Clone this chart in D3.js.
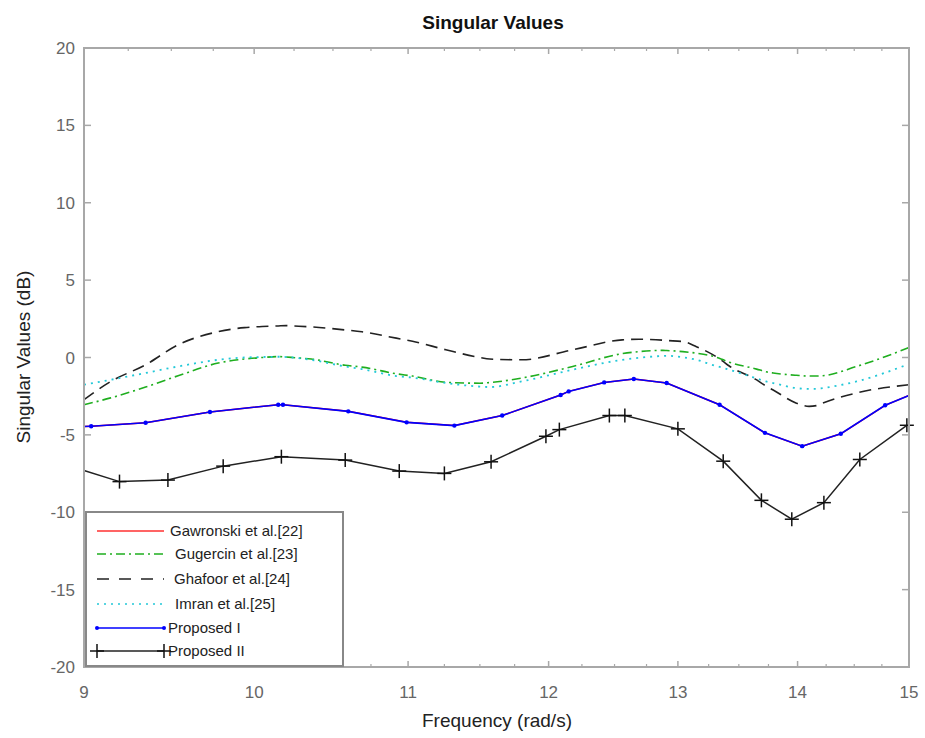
<!DOCTYPE html>
<html>
<head>
<meta charset="utf-8">
<script src="https://cdn.jsdelivr.net/npm/d3@7"></script>
<style>
  body { margin: 0; background: #fff; }
  svg { font-family: "Liberation Sans", Arial, sans-serif; }
</style>
</head>
<body>
<div id="chart"></div>
<script>
// frequencies (rad/s) and singular values (dB)
var smoothFreq = [9.0, 9.15, 9.35, 9.54, 9.78, 9.94, 10.05, 10.15, 10.2, 10.24, 10.36, 10.58, 10.69, 10.92,
                  11.03, 11.26, 11.5, 11.57, 11.8, 12.18, 12.56, 12.69, 12.88, 12.91, 13.04, 13.15, 13.31,
                  13.36, 13.42, 13.65, 13.73, 13.79, 13.99, 14.1, 14.17, 14.22, 14.52, 15.0];

var gugercin = [-3.05, -2.61, -1.91, -1.18, -0.36, -0.10, 0.0, 0.06, 0.03, 0.0, -0.10, -0.50, -0.62, -1.05,
                -1.2, -1.6, -1.66, -1.62, -1.33, -0.58, 0.25, 0.38, 0.46, 0.45, 0.38, 0.28, 0.02,
                -0.12, -0.3, -0.75, -0.92, -1.0, -1.15, -1.2, -1.2, -1.18, -0.58, 0.64];

var ghafoor = [-2.72, -1.55, -0.47, 0.82, 1.67, 1.93, 2.0, 2.04, 2.06, 2.04, 1.98, 1.78, 1.66, 1.25,
               1.05, 0.5, 0.0, -0.1, -0.15, 0.5, 1.14, 1.18, 1.12, 1.1, 1.03, 0.7, 0.06,
               -0.2, -0.55, -1.45, -1.85, -2.1, -2.95, -3.16, -3.1, -2.95, -2.29, -1.76];

var imran = [-1.76, -1.44, -1.0, -0.58, -0.15, 0.0, 0.03, 0.05, 0.03, 0.0, -0.15, -0.58, -0.75, -1.2,
             -1.3, -1.65, -1.88, -1.91, -1.55, -0.79, -0.15, -0.02, 0.1, 0.11, 0.02, -0.15, -0.55,
             -0.65, -0.79, -1.35, -1.55, -1.65, -1.98, -2.03, -2.03, -1.98, -1.55, -0.42];

var prop1Freq = [9.0, 9.04, 9.35, 9.73, 10.15, 10.18, 10.6, 10.99, 11.32, 11.66, 12.09, 12.15, 12.42, 12.65,
                 12.91, 13.34, 13.72, 14.04, 14.38, 14.78, 15.0];
var proposed1 = [-4.46, -4.44, -4.22, -3.52, -3.05, -3.05, -3.48, -4.19, -4.40, -3.75, -2.42, -2.19, -1.61, -1.39,
                 -1.65, -3.05, -4.87, -5.73, -4.93, -3.09, -2.45];
// Gawronski et al. coincides with Proposed I (hidden under it)
var gawronski = proposed1.slice();

var prop2Freq = [9.0, 9.2, 9.48, 9.81, 10.17, 10.58, 10.94, 11.25, 11.58, 11.98, 12.08, 12.46, 12.58,
                 13.0, 13.37, 13.69, 13.95, 14.23, 14.55, 14.98];
var proposed2 = [-7.3, -8.02, -7.92, -7.02, -6.41, -6.63, -7.34, -7.49, -6.74, -5.09, -4.66, -3.75, -3.75,
                 -4.61, -6.70, -9.23, -10.45, -9.38, -6.59, -4.38];

var legendLabels = ["Gawronski et al.[22]", "Gugercin et al.[23]", "Ghafoor et al.[24]",
                    "Imran et al.[25]", "Proposed I", "Proposed II"];
var xTicks = [9, 10, 11, 12, 13, 14, 15];
var yTicks = [20, 15, 10, 5, 0, -5, -10, -15, -20];

var W = 925, H = 738;
var pLeft = 84, pRight = 909, pTop = 48, pBottom = 667;
var axisGray = "#a8a8a8";
var labelGray = "#666";

var svg = d3.select("#chart").append("svg")
    .attr("width", W)
    .attr("height", H);

var x = d3.scaleLog().domain([9, 15]).range([pLeft, pRight]);
var y = d3.scaleLinear().domain([-20, 20]).range([pBottom, pTop]);

// minor ticks every 0.25 on the log axis
var minorTicks = d3.range(9, 15.001, 0.25).filter(function(d) { return Math.abs(d - Math.round(d)) > 0.01; });

var axes = svg.append("g");

// tick marks (inside, on all four sides)
xTicks.forEach(function(t) {
  axes.append("line").attr("x1", x(t)).attr("x2", x(t)).attr("y1", pBottom).attr("y2", pBottom - 6)
    .attr("stroke", axisGray).attr("stroke-width", 1.5);
  axes.append("line").attr("x1", x(t)).attr("x2", x(t)).attr("y1", pTop).attr("y2", pTop + 6)
    .attr("stroke", axisGray).attr("stroke-width", 1.5);
});
minorTicks.forEach(function(t) {
  axes.append("line").attr("x1", x(t)).attr("x2", x(t)).attr("y1", pBottom).attr("y2", pBottom - 3)
    .attr("stroke", axisGray).attr("stroke-width", 1.2);
  axes.append("line").attr("x1", x(t)).attr("x2", x(t)).attr("y1", pTop).attr("y2", pTop + 3)
    .attr("stroke", axisGray).attr("stroke-width", 1.2);
});
yTicks.forEach(function(t) {
  axes.append("line").attr("x1", pLeft).attr("x2", pLeft + 7).attr("y1", y(t)).attr("y2", y(t))
    .attr("stroke", axisGray).attr("stroke-width", 1.5);
  axes.append("line").attr("x1", pRight).attr("x2", pRight - 7).attr("y1", y(t)).attr("y2", y(t))
    .attr("stroke", axisGray).attr("stroke-width", 1.5);
});

// tick labels
axes.selectAll(".xl").data(xTicks).enter().append("text")
  .attr("x", function(d) { return x(d); })
  .attr("y", pBottom + 31)
  .attr("text-anchor", "middle")
  .attr("font-size", 17)
  .attr("fill", labelGray)
  .text(function(d) { return d; });

axes.selectAll(".yl").data(yTicks).enter().append("text")
  .attr("x", pLeft - 9)
  .attr("y", function(d) { return y(d) + 6; })
  .attr("text-anchor", "end")
  .attr("font-size", 17)
  .attr("fill", labelGray)
  .text(function(d) { return d; });

// series
var lineGen = d3.line().curve(d3.curveMonotoneX);
var straight = d3.line();
function pts(fs, vs) { return fs.map(function(f, i) { return [x(f), y(vs[i])]; }); }

var plot = svg.append("g");

plot.append("path").attr("d", straight(pts(prop1Freq, gawronski)))
  .attr("fill", "none").attr("stroke", "#ff0000").attr("stroke-width", 1.5);

plot.append("path").attr("d", lineGen(pts(smoothFreq, ghafoor)))
  .attr("fill", "none").attr("stroke", "#222").attr("stroke-width", 1.6)
  .attr("stroke-dasharray", "12,7");

plot.append("path").attr("d", lineGen(pts(smoothFreq, gugercin)))
  .attr("fill", "none").attr("stroke", "#1fae1f").attr("stroke-width", 1.6)
  .attr("stroke-dasharray", "9,4,2,4");

plot.append("path").attr("d", lineGen(pts(smoothFreq, imran)))
  .attr("fill", "none").attr("stroke", "#22c8d8").attr("stroke-width", 1.8)
  .attr("stroke-dasharray", "2,5");

plot.append("path").attr("d", straight(pts(prop1Freq, proposed1)))
  .attr("fill", "none").attr("stroke", "#0000ff").attr("stroke-width", 1.6);
plot.selectAll(".dot").data(prop1Freq.slice(1, -1)).enter().append("circle")
  .attr("cx", function(d) { return x(d); })
  .attr("cy", function(d, i) { return y(proposed1[i + 1]); })
  .attr("r", 2.2)
  .attr("fill", "#0000ff");

plot.append("path").attr("d", straight(pts(prop2Freq, proposed2)))
  .attr("fill", "none").attr("stroke", "#222").attr("stroke-width", 1.5);
var plus = plot.selectAll(".plus").data(prop2Freq.slice(1)).enter().append("g")
  .attr("transform", function(d, i) { return "translate(" + x(d) + "," + y(proposed2[i + 1]) + ")"; });
plus.append("line").attr("x1", -7).attr("x2", 7).attr("stroke", "#111").attr("stroke-width", 1.5);
plus.append("line").attr("y1", -7).attr("y2", 7).attr("stroke", "#111").attr("stroke-width", 1.5);

// axes box
svg.append("rect")
  .attr("x", pLeft).attr("y", pTop)
  .attr("width", pRight - pLeft).attr("height", pBottom - pTop)
  .attr("fill", "none").attr("stroke", axisGray).attr("stroke-width", 2);

// legend
var leg = svg.append("g");
leg.append("rect").attr("x", 86).attr("y", 512).attr("width", 257).attr("height", 154)
  .attr("fill", "#fff").attr("stroke", "#888").attr("stroke-width", 2);

var legStyles = [
  { color: "#ff3030", dash: null, tx: 170 },
  { color: "#1fae1f", dash: "9,4,2,4", tx: 175 },
  { color: "#222", dash: "12,10", tx: 174 },
  { color: "#22c8d8", dash: "2,5", tx: 175 },
  { color: "#0000ff", dash: null, tx: 168 },
  { color: "#222", dash: null, tx: 168 }
];
var legY = [531, 554, 579, 604, 628, 651];

legendLabels.forEach(function(lab, i) {
  var s = legStyles[i];
  leg.append("line").attr("x1", 97).attr("x2", 164).attr("y1", legY[i]).attr("y2", legY[i])
    .attr("stroke", s.color).attr("stroke-width", 1.6)
    .attr("stroke-dasharray", s.dash);
  leg.append("text").attr("x", s.tx).attr("y", legY[i] + 5)
    .attr("font-size", 15).attr("fill", "#222").text(lab);
});
[97, 164].forEach(function(px) {
  leg.append("circle").attr("cx", px).attr("cy", legY[4]).attr("r", 2).attr("fill", "#0000ff");
  leg.append("line").attr("x1", px - 7).attr("x2", px + 7).attr("y1", legY[5]).attr("y2", legY[5])
    .attr("stroke", "#111").attr("stroke-width", 1.5);
  leg.append("line").attr("x1", px).attr("x2", px).attr("y1", legY[5] - 7).attr("y2", legY[5] + 7)
    .attr("stroke", "#111").attr("stroke-width", 1.5);
});

// titles
svg.append("text").attr("x", 493).attr("y", 29).attr("text-anchor", "middle")
  .attr("font-size", 19).attr("font-weight", "bold").attr("fill", "#111").text("Singular Values");

svg.append("text").attr("x", 497).attr("y", 727).attr("text-anchor", "middle")
  .attr("font-size", 19).attr("fill", "#222").text("Frequency (rad/s)");

svg.append("text").attr("transform", "translate(30,357) rotate(-90)").attr("text-anchor", "middle")
  .attr("font-size", 19).attr("fill", "#222").text("Singular Values (dB)");
</script>
</body>
</html>
